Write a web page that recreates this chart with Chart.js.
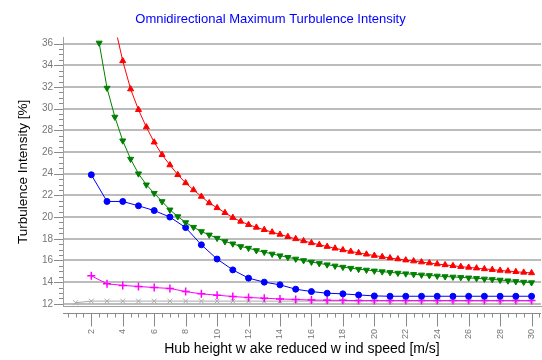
<!DOCTYPE html>
<html>
<head>
<meta charset="utf-8">
<script src="https://cdn.jsdelivr.net/npm/chart.js@4.4.1/dist/chart.umd.min.js"></script>
<style>
  body { margin: 0; background: #fff; }
  #wrap { width: 542px; height: 360px; }
</style>
</head>
<body>
<div id="wrap"><canvas id="line-chart"></canvas></div>
<script>
// wind speeds [m/s]
var speedsHalf = [
	2.5, 3, 3.5, 4, 4.5, 5, 5.5, 6, 6.5, 7, 7.5, 8, 8.5, 9, 9.5, 10, 10.5, 11,
	11.5, 12, 12.5, 13, 13.5, 14, 14.5, 15, 15.5, 16, 16.5, 17, 17.5, 18, 18.5,
	19, 19.5, 20, 20.5, 21, 21.5, 22, 22.5, 23, 23.5, 24, 24.5, 25, 25.5, 26,
	26.5, 27, 27.5, 28, 28.5, 29, 29.5, 30,
];
var speedsWhole = [
	1, 2, 3, 4, 5, 6, 7, 8, 9, 10, 11, 12, 13, 14, 15, 16, 17, 18, 19, 20, 21,
	22, 23, 24, 25, 26, 27, 28, 29, 30,
];

// turbulence intensity [%]
var redTI = [
	37.6, 34.4, 31.8, 29.9, 28.3, 26.9, 25.75, 24.8, 23.9, 23.15, 22.5, 21.9,
	21.3, 20.85, 20.4, 19.95, 19.6, 19.3, 19.05, 18.83, 18.61, 18.4, 18.19,
	17.99, 17.8, 17.62, 17.45, 17.28, 17.12, 16.97, 16.83, 16.7, 16.57, 16.45,
	16.34, 16.23, 16.13, 16.03, 15.94, 15.85, 15.76, 15.67, 15.59, 15.51, 15.43,
	15.36, 15.29, 15.22, 15.15, 15.08, 15.02, 14.96, 14.9, 14.85,
]; // from 3.5 m/s
var greenTI = [
	36.06, 31.9, 29.23, 27.04, 25.35, 24.0, 22.98, 22.2, 21.44, 20.67, 20.05,
	19.5, 19.07, 18.67, 18.36, 18.06, 17.75, 17.54, 17.29, 17.14, 16.92, 16.77,
	16.6, 16.44, 16.29, 16.14, 16.0, 15.86, 15.73, 15.61, 15.5, 15.39, 15.29,
	15.2, 15.12, 15.04, 14.97, 14.9, 14.84, 14.78, 14.72, 14.67, 14.62, 14.57,
	14.52, 14.48, 14.44, 14.4, 14.35, 14.3, 14.25, 14.2, 14.13, 14.07, 14.01,
	13.96,
]; // from 2.5 m/s
var blueTI = [
	23.9, 21.44, 21.44, 21.04, 20.6, 20.0, 19.03, 17.44, 16.13, 15.13, 14.37,
	14.0, 13.75, 13.35, 13.13, 12.98, 12.92, 12.82, 12.73, 12.7, 12.7, 12.7,
	12.7, 12.7, 12.7, 12.7, 12.7, 12.7, 12.7,
]; // from 2 m/s
var magentaTI = [
	14.58, 13.85, 13.7, 13.6, 13.5, 13.42, 13.13, 12.92, 12.8, 12.67, 12.58,
	12.52, 12.45, 12.4, 12.35, 12.33, 12.32, 12.3, 12.3, 12.3, 12.3, 12.3, 12.3,
	12.3, 12.3, 12.3, 12.3, 12.3, 12.3,
]; // from 2 m/s
var grayTI = [
	12.1, 12.25, 12.25, 12.25, 12.25, 12.25, 12.25, 12.25, 12.25, 12.25, 12.25,
	12.25, 12.25, 12.25, 12.25, 12.25, 12.25, 12.25, 12.25, 12.25, 12.25, 12.25,
	12.25, 12.25, 12.25, 12.25, 12.25, 12.25, 12.25, 12.25,
]; // from 1 m/s

var xTickValues = [2, 4, 6, 8, 10, 12, 14, 16, 18, 20, 22, 24, 26, 28, 30];
var yTickValues = [12, 14, 16, 18, 20, 22, 24, 26, 28, 30, 32, 34, 36];

function pairs(xs, ys) {
	var start = xs.length - ys.length;
	return ys.map(function (v, i) {
		return { x: xs[start + i], y: v };
	});
}

// small tick marks outside the plot (y to the left, x on a separate line below)
var axisTicks = {
	id: "axisTicks",
	afterDraw: function (chart) {
		var ctx = chart.ctx;
		var a = chart.chartArea;
		var xs = chart.scales.x;
		var ys = chart.scales.y;
		ctx.save();
		ctx.strokeStyle = "#8a8a8a";
		ctx.lineWidth = 1;
		ctx.beginPath();
		for (var v = 12; v <= 36; v += 0.5) {
			var py = Math.round(ys.getPixelForValue(v)) + 0.5;
			var len = v % 2 === 0 ? 9 : 4;
			ctx.moveTo(a.left - len, py);
			ctx.lineTo(a.left, py);
		}
		var base = a.bottom + 7.5;
		ctx.moveTo(a.left, base);
		ctx.lineTo(a.right, base);
		for (var w = 0.5; w <= 30.5; w += 0.5) {
			var px = Math.round(xs.getPixelForValue(w)) + 0.5;
			var l2 = w % 2 === 0 && w >= 2 ? 13 : 4;
			ctx.moveTo(px, base);
			ctx.lineTo(px, base + l2);
		}
		ctx.stroke();
		ctx.restore();
	},
};

var ctx = document.getElementById("line-chart").getContext("2d");
var myChart = new Chart(ctx, {
	type: "line",
	data: {
		datasets: [
			{
				data: pairs(speedsHalf, redTI),
				borderColor: "#ff0000",
				backgroundColor: "#ff0000",
				pointStyle: "triangle",
				pointRadius: 3.5,
			},
			{
				data: pairs(speedsHalf, greenTI),
				borderColor: "#008000",
				backgroundColor: "#008000",
				pointStyle: "triangle",
				rotation: 180,
				pointRadius: 3.5,
			},
			{
				data: pairs(speedsWhole, blueTI),
				borderColor: "#0000ff",
				backgroundColor: "#0000ff",
				pointStyle: "circle",
				pointRadius: 3,
			},
			{
				data: pairs(speedsWhole, magentaTI),
				borderColor: "#ff00ff",
				backgroundColor: "#ff00ff",
				pointStyle: "cross",
				pointRadius: 4,
				pointBorderWidth: 1.5,
			},
			{
				data: pairs(speedsWhole, grayTI),
				borderColor: "#a8a8a8",
				backgroundColor: "#a8a8a8",
				pointStyle: "crossRot",
				pointRadius: 3.5,
				pointBorderWidth: 1,
			},
		],
	},
	options: {
		responsive: true,
		maintainAspectRatio: false,
		animation: false,
		datasets: { line: { borderWidth: 1, tension: 0, clip: 0 } },
		plugins: {
			legend: { display: false },
			tooltip: { enabled: false },
			title: {
				display: true,
				text: "Omnidirectional Maximum Turbulence Intensity",
				color: "#0000ff",
				font: { family: "Liberation Sans, Arial", size: 13, weight: "normal" },
				padding: { top: 12, bottom: 10 },
			},
		},
		layout: { autoPadding: false, padding: { left: 0, right: 1, top: 0, bottom: 0 } },
		scales: {
			x: {
				type: "linear",
				min: 0.2,
				max: 30.6,
				afterBuildTicks: function (scale) {
					scale.ticks = xTickValues.map(function (v) { return { value: v }; });
				},
				afterFit: function (scale) {
					scale.height = 54;
					scale.paddingLeft = 0;
					scale.paddingRight = 0;
				},
				grid: { display: false, drawTicks: false },
				border: { display: true, color: "#a0a0a0", width: 1 },
				ticks: {
					autoSkip: false,
					minRotation: 90,
					maxRotation: 90,
					padding: 23,
					color: "#777",
					font: { family: "Liberation Sans, Arial", size: 9 },
				},
				title: {
					display: true,
					text: "Hub height w ake reduced w ind speed [m/s]",
					color: "#000",
					font: { family: "Liberation Sans, Arial", size: 14 },
					padding: { top: 0, bottom: 2 },
				},
			},
			y: {
				min: 11.8,
				max: 36.55,
				afterBuildTicks: function (scale) {
					scale.ticks = yTickValues.map(function (v) { return { value: v }; });
				},
				afterFit: function (scale) {
					scale.width = 63;
					scale.paddingTop = 0;
					scale.paddingBottom = 0;
				},
				grid: { color: "#bcbcbc", lineWidth: 2, drawTicks: false },
				border: { display: true, color: "#a0a0a0", width: 1 },
				ticks: {
					padding: 10,
					color: "#777",
					font: { family: "Liberation Sans, Arial", size: 10 },
				},
				title: {
					display: true,
					text: "Turbulence Intensity [%]",
					color: "#000",
					font: { family: "Liberation Sans, Arial", size: 13.5 },
					padding: { top: 15, bottom: 0 },
				},
			},
		},
	},
	plugins: [axisTicks],
});
</script>
</body>
</html>
